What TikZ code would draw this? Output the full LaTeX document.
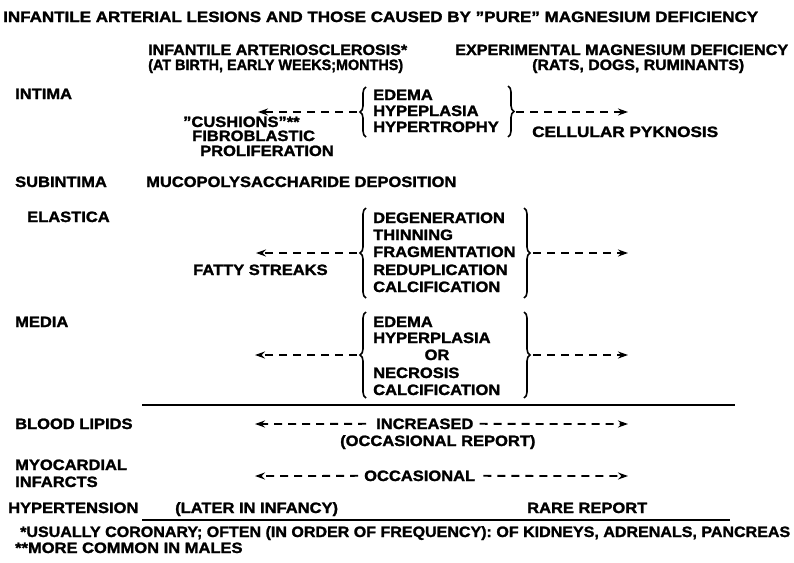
\documentclass[tikz,border=0pt]{standalone}
\usepackage{fontspec}
\usepackage{graphicx}
\setmainfont{Liberation Sans}[FakeStretch=1.1, BoldFeatures={FakeBold=1.6}]
\usetikzlibrary{arrows.meta,decorations.pathreplacing}
\newcommand\dq{{\char"0022}}
\newcommand\fitw[2]{\resizebox{#1pt}{\height}{#2}}
\tikzset{
  txt/.style={inner sep=0pt, anchor=base west, font=\fontsize{15}{17}\selectfont\bfseries},
  dasharrow/.style={line width=1.8pt, dash pattern=on 8pt off 6pt, -{Stealth[length=10pt,width=7pt]}},
  bracestyle/.style={decorate, decoration={brace, amplitude=6pt, aspect=0.5}, line width=1.6pt},
  rulestyle/.style={line width=1.8pt}
}
\begin{document}
\begin{tikzpicture}[x=1pt,y=-1pt]
\useasboundingbox (0,0) rectangle (794,562);
\fill[white] (0,0) rectangle (794,562);
% title and headers
\node[txt] (title) at (3,22) {\fitw{755}{INFANTILE ARTERIAL LESIONS AND THOSE CAUSED BY \dq PURE\dq\ MAGNESIUM DEFICIENCY}};
\node[txt] (hl1) at (148,55) {\fitw{259}{INFANTILE ARTERIOSCLEROSIS*}};
\node[txt] (hl2) at (148,70) {\fitw{255}{(AT BIRTH, EARLY WEEKS;MONTHS)}};
\node[txt] (hr1) at (455,55) {\fitw{333}{EXPERIMENTAL MAGNESIUM DEFICIENCY}};
\node[txt] (hr2) at (532,70) {\fitw{212}{(RATS, DOGS, RUMINANTS)}};
% row labels
\node[txt] (intima) at (15,99) {INTIMA};
\node[txt] (subint) at (15,187) {SUBINTIMA};
\node[txt] (elast) at (27,222) {ELASTICA};
\node[txt] (media) at (15,327) {MEDIA};
\node[txt] (blood) at (15,429) {BLOOD LIPIDS};
\node[txt] (myo1) at (15,470) {MYOCARDIAL};
\node[txt] (myo2) at (15,487) {INFARCTS};
\node[txt] (hyper) at (8,513) {HYPERTENSION};
% intima block
\node[txt] (i1) at (373,100) {EDEMA};
\node[txt] (i2) at (373,116) {HYPEPLASIA};
\node[txt] (i3) at (373,132) {HYPERTROPHY};
\draw[bracestyle] (366,137) -- (366,87);
\draw[bracestyle] (508,86) -- (508,137);
\coordinate (iL) at (357,112); \coordinate (iLe) at (258,112);
\coordinate (iR) at (516,112); \coordinate (iRe) at (628,112);
\draw[dasharrow] (iL) -- (iLe);
\draw[dasharrow] (iR) -- (iRe);
\node[txt] (cush) at (183,127) {\dq CUSHIONS\dq**};
\node[txt] (fibro) at (192,141) {FIBROBLASTIC};
\node[txt] (prolif) at (200,156) {PROLIFERATION};
\node[txt] (pykn) at (532,137) {\fitw{186}{CELLULAR PYKNOSIS}};
% subintima
\node[txt] (muco) at (146,187) {MUCOPOLYSACCHARIDE DEPOSITION};
% elastica block
\node[txt] (e1) at (373,223) {DEGENERATION};
\node[txt] (e2) at (373,240) {THINNING};
\node[txt] (e3) at (373,257) {FRAGMENTATION};
\node[txt] (e4) at (373,275) {REDUPLICATION};
\node[txt] (e5) at (373,292) {CALCIFICATION};
\draw[bracestyle] (366,298) -- (366,208);
\draw[bracestyle] (524,208) -- (524,298);
\coordinate (eL) at (357,253); \coordinate (eLe) at (256,253);
\coordinate (eR) at (533,253); \coordinate (eRe) at (628,253);
\draw[dasharrow] (eL) -- (eLe);
\draw[dasharrow] (eR) -- (eRe);
\node[txt] (fatty) at (193,275) {FATTY STREAKS};
% media block
\node[txt] (m1) at (373,327) {EDEMA};
\node[txt] (m2) at (373,343) {HYPERPLASIA};
\node[txt, anchor=base] (m3) at (437,360) {OR};
\node[txt] (m4) at (373,378) {NECROSIS};
\node[txt] (m5) at (373,395) {CALCIFICATION};
\draw[bracestyle] (366,398) -- (366,312);
\draw[bracestyle] (524,312) -- (524,398);
\coordinate (mL) at (357,355); \coordinate (mLe) at (255,355);
\coordinate (mR) at (533,355); \coordinate (mRe) at (628,355);
\draw[dasharrow] (mL) -- (mLe);
\draw[dasharrow] (mR) -- (mRe);
% rule
\coordinate (r1a) at (142,405); \coordinate (r1b) at (735,405);
\draw[rulestyle] (r1a) -- (r1b);
% blood lipids
\node[txt] (incr) at (376,429) {INCREASED};
\node[txt] (occrep) at (340,446) {(OCCASIONAL REPORT)};
\coordinate (bLe) at (255,424); \coordinate (bRe) at (628,424);
\draw[dasharrow] ([xshift=-10pt]incr.west) -- (bLe);
\draw[dasharrow] ([xshift=6pt]incr.east) -- (bRe);
% myocardial
\node[txt] (occ) at (364,481) {OCCASIONAL};
\coordinate (oLe) at (255,476); \coordinate (oRe) at (628,476);
\draw[dasharrow] ([xshift=-6pt]occ.west) -- (oLe);
\draw[dasharrow] ([xshift=8pt]occ.east) -- (oRe);
% hypertension
\node[txt] (later) at (175,513) {(LATER IN INFANCY)};
\node[txt] (rare) at (527,513) {RARE REPORT};
\coordinate (r2a) at (142,520); \coordinate (r2b) at (730,520);
\draw[rulestyle] (r2a) -- (r2b);
% footnotes
\node[txt] (fn1) at (20,537) {\fitw{770}{*USUALLY CORONARY; OFTEN (IN ORDER OF FREQUENCY): OF KIDNEYS, ADRENALS, PANCREAS}};
\node[txt] (fn2) at (15,553) {**MORE COMMON IN MALES};
\end{tikzpicture}
\end{document}
